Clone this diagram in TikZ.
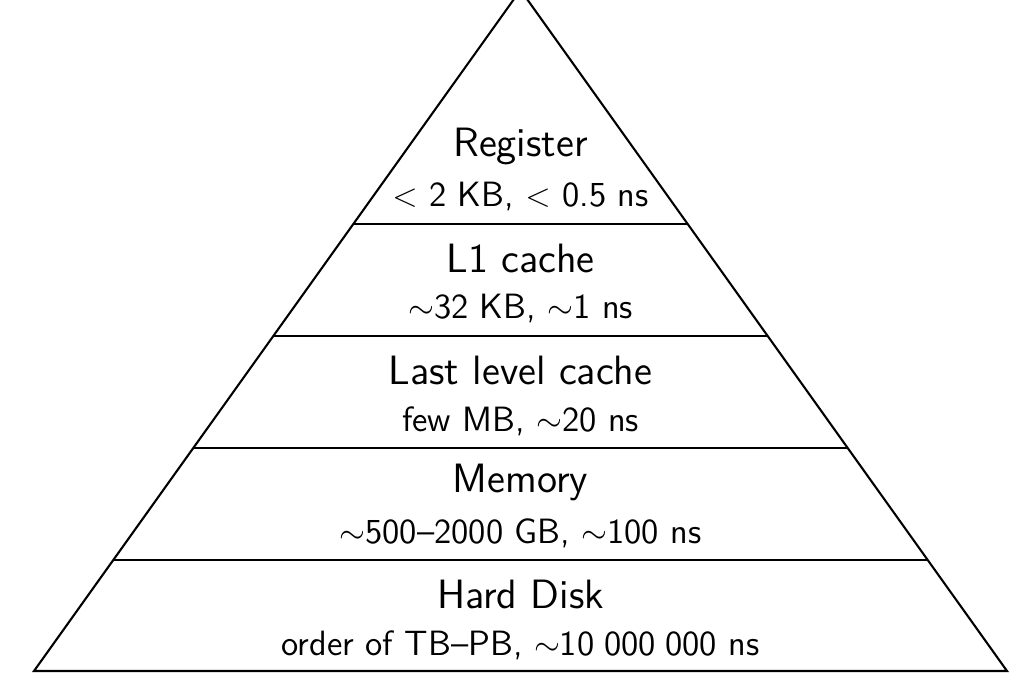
\documentclass[tikz,border=0pt]{standalone}
\usetikzlibrary{calc}
\begin{document}
\begin{tikzpicture}[x=0.36pt,y=-0.36pt,
  edge/.style={line width=0.75pt,black},
  title/.style={font=\sffamily\fontsize{14.75}{17}\selectfont,inner sep=0pt,anchor=center},
  info/.style={font=\sffamily\fontsize{12.65}{15}\selectfont,inner sep=0pt,anchor=center}]
\useasboundingbox (0,0) rectangle (1018,683);
\coordinate (apex) at (520.5,-10);
\coordinate (bl) at (34,671);
\coordinate (br) at (1007,671);
\draw[edge] (bl) -- (apex) -- (br) -- cycle;
\foreach \i/\y in {1/224,2/336,3/448,4/560}{
  \coordinate (l\i) at ($(apex)!{(\y+10)/681}!(bl)$);
  \coordinate (r\i) at ($(apex)!{(\y+10)/681}!(br)$);
  \draw[edge] (l\i) -- (r\i);
}
\node[title] (t1) at (520.5,146) {Register};
\node[info]  (s1) at (520.5,197) {$<$ 2 KB, $<$ 0.5 ns};
\node[title] (t2) at (520.5,258) {L1 cache};
\node[info]  (s2) at (520.5,309) {$\sim$32 KB, $\sim$1 ns};
\node[title] (t3) at (520.5,370) {Last level cache};
\node[info]  (s3) at (520.5,421) {few MB, $\sim$20 ns};
\node[title] (t4) at (520.5,482) {Memory};
\node[info]  (s4) at (520.5,533) {$\sim$500--2000 GB, $\sim$100 ns};
\node[title] (t5) at (520.5,594) {Hard Disk};
\node[info]  (s5) at (520.5,645) {order of TB--PB, $\sim$10\;000\;000 ns};
\end{tikzpicture}
\end{document}
